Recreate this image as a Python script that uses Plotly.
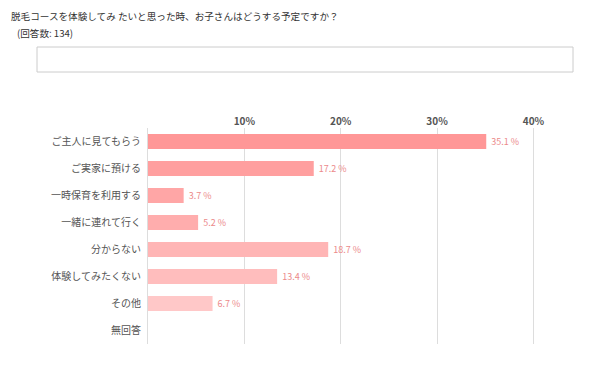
import plotly.graph_objects as go

categories = ["ご主人に見てもらう", "ご実家に預ける", "一時保育を利用する", "一緒に連れて行く",
              "分からない", "体験してみたくない", "その他", "無回答"]
values = [35.1, 17.2, 3.7, 5.2, 18.7, 13.4, 6.7, 0]
bar_colors = ["#ff9797", "#ff9f9f", "#ffa6a6", "#ffadad", "#ffb5b5", "#ffbdbd", "#ffc8c8", "#ffd0d0"]
tick_vals = [10, 20, 30, 40]
tick_text = ["10%", "20%", "30%", "40%"]
title_text = "脱毛コースを体験してみ たいと思った時、お子さんはどうする予定ですか？"
subtitle_text = "(回答数: 134)"

FONT = "Noto Sans CJK JP"
labels = [(" %.1f %%" % v) if v > 0 else "" for v in values]

fig = go.Figure(go.Bar(
    x=values, y=categories, orientation="h",
    marker=dict(color=bar_colors, line=dict(width=0)),
    text=labels, textposition="outside", cliponaxis=False,
    textfont=dict(family=FONT, size=9, color="#ec8a8a"),
    hoverinfo="skip",
))

# page body has an 8px margin; all target pixel coords are shifted by it
O = 8
W, H = 600 - O, 374 - O
L, T = 148 - O, 128 - O
R = W - (572 - O)
B = H - (344 - O)
pw, ph = W - L - R, H - T - B

def px(x):
    return (x - O - L) / pw

def py(y):
    return (H - B - (y - O)) / ph

fig.add_shape(type="rect", xref="paper", yref="paper",
              x0=px(37), x1=px(573), y0=py(72), y1=py(47),
              line=dict(color="#cccccc", width=1), fillcolor="white")

fig.add_annotation(text=title_text, xref="paper", yref="paper", x=px(9), y=py(16),
                   xanchor="left", yanchor="middle", showarrow=False,
                   font=dict(family=FONT, size=9.6, color="#333333"))
fig.add_annotation(text=subtitle_text, xref="paper", yref="paper", x=px(15), y=py(33),
                   xanchor="left", yanchor="middle", showarrow=False,
                   font=dict(family=FONT, size=9.6, color="#333333"))

fig.update_layout(
    width=W, height=H, margin=dict(l=L, r=R, t=T, b=B),
    paper_bgcolor="white", plot_bgcolor="white",
    showlegend=False, bargap=0.44,
    font=dict(family=FONT),
    xaxis=dict(side="top", range=[0, 44], tickvals=tick_vals, ticktext=tick_text,
               showgrid=True, gridcolor="#dddddd", gridwidth=1, zeroline=False,
               showline=False, ticks="",
               tickfont=dict(family=FONT, size=10, color="#555555", weight="bold")),
    yaxis=dict(autorange="reversed", showgrid=False, zeroline=False,
               showline=True, linecolor="#dddddd", linewidth=1, ticks="",
               ticklabelstandoff=4,
               tickfont=dict(family=FONT, size=10, color="#555555")),
)

fig.write_html("out.html")
